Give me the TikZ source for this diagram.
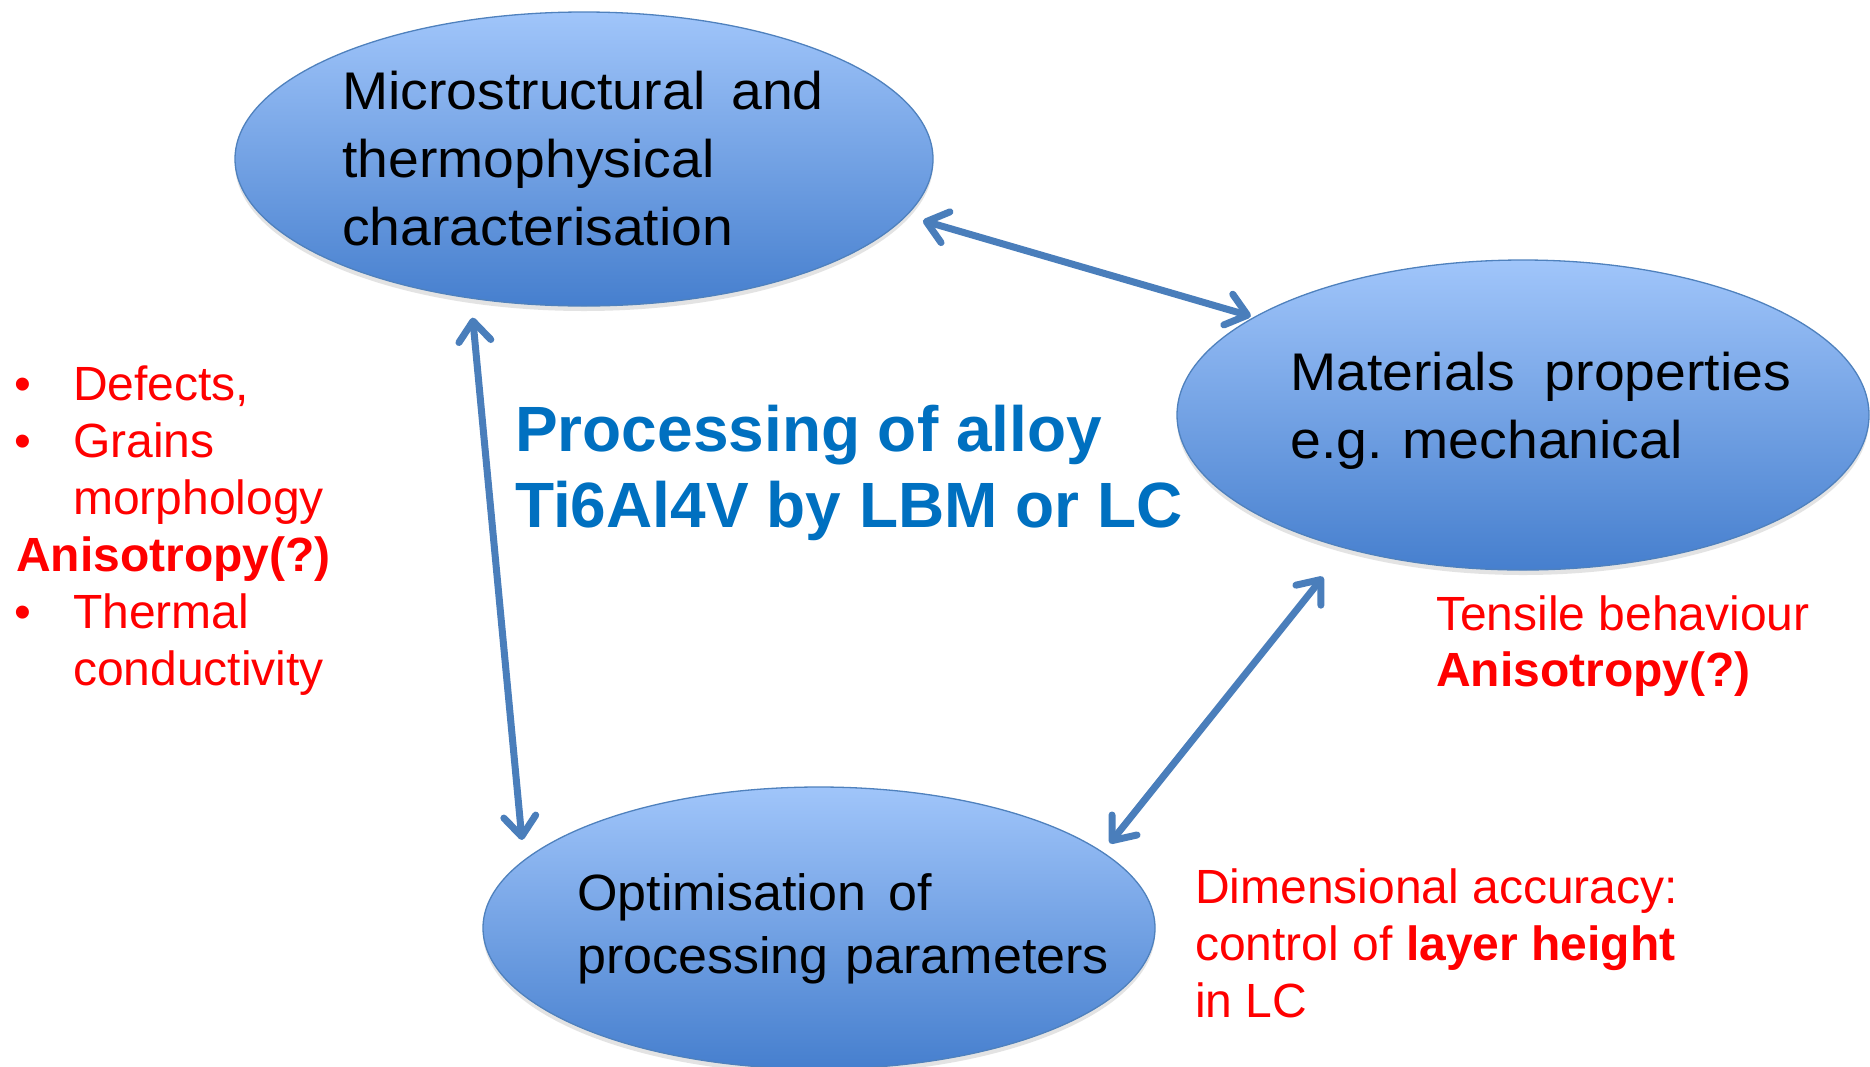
\documentclass[tikz,border=0pt]{standalone}
\usepackage{fontspec}
\setmainfont{Liberation Sans}
\usetikzlibrary{arrows.meta,shapes.geometric,shadows}
\definecolor{arrowblue}{RGB}{74,126,187}
\definecolor{titleblue}{RGB}{0,112,192}
\definecolor{ellborder}{RGB}{79,129,189}
\definecolor{elltop}{RGB}{160,197,250}
\definecolor{ellbot}{RGB}{70,127,206}
\definecolor{redtext}{RGB}{255,0,0}
\begin{document}
\begin{tikzpicture}[x=1pt,y=-1pt,
  bubble/.style={ellipse, draw=ellborder, line width=1.3pt,
    top color=elltop, bottom color=ellbot, inner sep=0pt,
    drop shadow={shadow xshift=0pt, shadow yshift=-5pt, opacity=0.18, fill=black!60}},
  bubbletext/.style={anchor=base west, align=left, inner sep=0pt, text=black},
  redlist/.style={anchor=base west, align=left, inner sep=0pt, text=redtext,
    font=\fontsize{48}{57}\selectfont},
  arr/.style={draw=arrowblue, line width=7pt, line cap=round,
    {Straight Barb[length=20pt,width=32pt,round]}-{Straight Barb[length=20pt,width=32pt,round]}}
]
\useasboundingbox (0,0) rectangle (1870,1066);

% ellipses
\node[bubble, minimum width=698pt, minimum height=294pt] (eA) at (584,159) {};
\node[bubble, minimum width=692pt, minimum height=310pt] (eB) at (1523,415) {};
\node[bubble, minimum width=672pt, minimum height=282pt] (eC) at (819,928) {};

% ellipse texts (anchor = baseline of the last line)
\node[bubbletext, font=\fontsize{53}{68}\selectfont\addfontfeatures{FakeStretch=1.045}] (tA) at (342,245)
  {Microstructural\hspace{26pt}and\\thermophysical\\characterisation};
\node[bubbletext, font=\fontsize{53}{68}\selectfont\addfontfeatures{FakeStretch=1.045}] (tB) at (1290,458)
  {Materials\hspace{30pt}properties\\e.g.\hspace{20pt}mechanical};
\node[bubbletext, font=\fontsize{51}{63}\selectfont\addfontfeatures{FakeStretch=1.02}] (tC) at (577,973)
  {Optimisation\hspace{22pt}of\\processing\hspace{17pt}parameters};

% title
\node[anchor=base west, align=left, inner sep=0pt, text=titleblue,
  font=\fontsize{64}{76}\selectfont\bfseries] (title) at (515,527)
  {Processing of alloy\\Ti6Al4V by LBM or LC};

% red annotations
\node[redlist] (left) at (14,685)
  {\makebox[59pt][l]{•}Defects,\\
   \makebox[59pt][l]{•}Grains\\
   \hspace*{59pt}morphology\\
   \hspace*{2pt}\textbf{Anisotropy(?)}\\
   \makebox[59pt][l]{•}Thermal\\
   \hspace*{59pt}conductivity};
\node[redlist, font=\fontsize{48}{56}\selectfont] (right) at (1436,686)
  {Tensile behaviour\\\textbf{Anisotropy(?)}};
\node[redlist] (bottom) at (1195,1017)
  {Dimensional accuracy:\\control of \textbf{layer height}\\in LC};

% connectors
\draw[arr, shorten <=17pt, shorten >=3pt] (eA.-10) -- (eB.160);
\draw[arr, shorten <=19pt, shorten >=20pt] (eA.-129) -- (eC.167);
\draw[arr, shorten <=36pt, shorten >=11pt] (eB.-143) -- (eC.15);
\end{tikzpicture}
\end{document}
